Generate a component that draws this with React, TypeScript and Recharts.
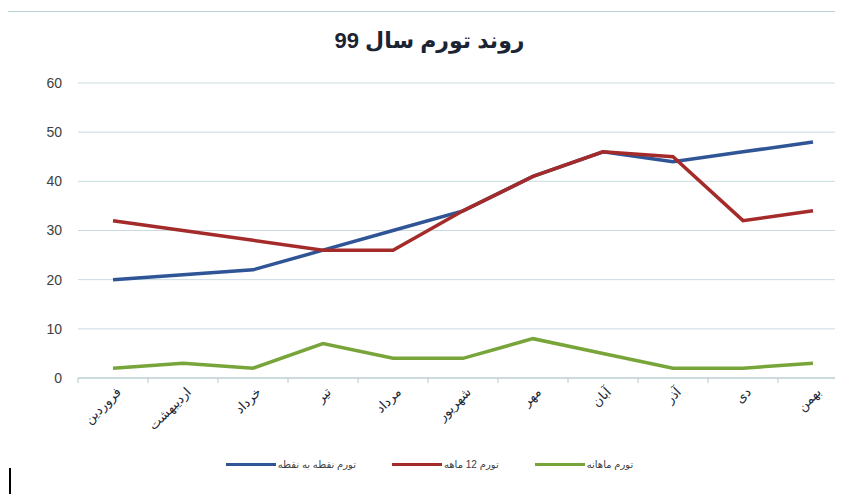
import React from 'react';
import { LineChart, Line, XAxis, YAxis, CartesianGrid } from 'recharts';

const months = ['فروردین', 'اردیبهشت', 'خرداد', 'تیر', 'مرداد', 'شهریور', 'مهر', 'آبان', 'آذر', 'دی', 'بهمن'];
const pointToPoint = [20, 21, 22, 26, 30, 34, 41, 46, 44, 46, 48];
const twelveMonth = [32, 30, 28, 26, 26, 34, 41, 46, 45, 32, 34];
const monthly = [2, 3, 2, 7, 4, 4, 8, 5, 2, 2, 3];
const yTicks = [0, 10, 20, 30, 40, 50, 60];

const seriesNames = ['تورم نقطه به نقطه', 'تورم 12 ماهه', 'تورم ماهانه'];
const colors = ['#2f5597', '#a52b2b', '#77a53a'];

const data = months.map((m, i) => ({
    month: m,
    p2p: pointToPoint[i],
    y12: twelveMonth[i],
    mon: monthly[i],
}));

const FONT = "'Liberation Sans', 'DejaVu Sans', sans-serif";
const CHART_W = 860;
const PLOT_W = 770;
const STEP = PLOT_W / months.length;

// month label rotated -45deg, plus the small tick marks on band edges
const MonthTick = (props: any) => {
    const { x, y, payload, index } = props;
    const axisY = y - 8;
    return (
        <g>
            <line x1={x - STEP / 2} x2={x - STEP / 2} y1={axisY} y2={axisY + 5} stroke="#b4c7ce" />
            {index === months.length - 1 && (
                <line x1={x + STEP / 2} x2={x + STEP / 2} y1={axisY} y2={axisY + 5} stroke="#b4c7ce" />
            )}
            <g transform={`translate(${x + 6},${y + 4})`}>
                <text textAnchor="end" transform="rotate(-45)" fontSize={13} fill="#1c2838" fontFamily={FONT} dy={4}>
                    {payload.value}
                </text>
            </g>
        </g>
    );
};

export default function App() {
    return (
        <div style={{ position: 'relative', width: 835, height: 486, overflow: 'hidden' }}>
            <div
                style={{
                    position: 'absolute',
                    left: -1,
                    top: 3,
                    width: 843,
                    height: 520,
                    borderTop: '1px solid #b9d0d6',
                    borderLeft: '1px solid #b9d0d6',
                    background: '#fff',
                }}
            >
                <div
                    style={{
                        position: 'absolute',
                        top: 15,
                        left: 0,
                        width: 843,
                        textAlign: 'center',
                        fontFamily: FONT,
                        fontWeight: 'bold',
                        fontSize: 22,
                        lineHeight: '28px',
                        color: '#1b2433',
                        direction: 'rtl',
                    }}
                >
                    روند تورم سال 99
                </div>
                <div style={{ position: 'absolute', left: 0, top: 0 }}>
                    <LineChart
                        width={CHART_W}
                        height={440}
                        data={data}
                        margin={{ top: 71, right: 20, left: 0, bottom: 0 }}
                    >
                        <CartesianGrid vertical={false} stroke="#c9dbe0" />
                        <XAxis
                            dataKey="month"
                            height={74}
                            interval={0}
                            padding={{ left: STEP / 2, right: STEP / 2 }}
                            tickLine={false}
                            axisLine={{ stroke: '#b4c7ce' }}
                            tick={<MonthTick />}
                        />
                        <YAxis
                            width={70}
                            domain={[0, 60]}
                            ticks={yTicks}
                            axisLine={false}
                            tickLine={false}
                            tickMargin={10}
                            tick={{ fill: '#404040', fontSize: 14, fontFamily: FONT }}
                        />
                        <Line dataKey="p2p" stroke={colors[0]} strokeWidth={3.5} dot={false} isAnimationActive={false} />
                        <Line dataKey="y12" stroke={colors[1]} strokeWidth={3.5} dot={false} isAnimationActive={false} />
                        <Line dataKey="mon" stroke={colors[2]} strokeWidth={3.5} dot={false} isAnimationActive={false} />
                    </LineChart>
                </div>
                <div
                    style={{
                        position: 'absolute',
                        top: 447,
                        left: 0,
                        width: 843,
                        display: 'flex',
                        justifyContent: 'center',
                        gap: 36,
                        fontFamily: FONT,
                        fontSize: 10,
                        color: '#404040',
                    }}
                >
                    {seriesNames.map((name, i) => (
                        <div key={name} style={{ display: 'flex', alignItems: 'center' }}>
                            <span style={{ display: 'inline-block', width: 50, height: 3, background: colors[i] }} />
                            <span style={{ direction: 'rtl', marginLeft: 2 }}>{name}</span>
                        </div>
                    ))}
                </div>
            </div>
            <div style={{ position: 'absolute', left: 1, top: 460, width: 2, height: 30, background: '#000' }} />
        </div>
    );
}
